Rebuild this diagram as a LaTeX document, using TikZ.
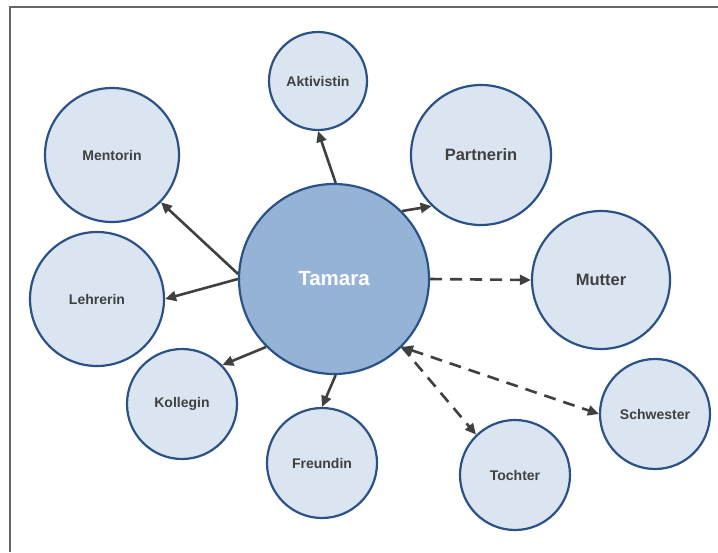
\documentclass[tikz,border=0pt]{standalone}
\usepackage{fontspec}
\setmainfont{Liberation Sans}
\usetikzlibrary{arrows.meta}
\definecolor{ring}{HTML}{2B5287}
\definecolor{pale}{HTML}{DBE5F1}
\definecolor{core}{HTML}{95B3D7}
\definecolor{ink}{HTML}{404040}

\begin{document}
\begin{tikzpicture}[x=1pt,y=-1pt,
    person/.style={circle,draw=ring,line width=2.2pt,fill=pale,inner sep=0pt,
      text=ink,font=\bfseries\fontsize{14}{16}\selectfont},
    big/.style={font=\bfseries\fontsize{16.5}{18}\selectfont},
    tie/.style={draw=ink,line width=2.6pt,-{Triangle[length=11pt,width=10pt]}},
    loose/.style={tie,dash pattern=on 12pt off 8pt}]
    \useasboundingbox (0,0) rectangle (718,552);
    \draw[line width=1.5pt,gray!80!black] (10,552) |- (718,7);
    \node[person,minimum size=190pt,fill=core,text=white,
      font=\bfseries\fontsize{20.5}{22}\selectfont] (tamara) at (334,279) {Tamara};
    \node[person,minimum size=98pt] (aktivistin) at (318,81) {Aktivistin};
    \node[person,minimum size=134pt] (mentorin) at (112,155) {Mentorin};
    \node[person,big,minimum size=140pt] (partnerin) at (481,155) {Partnerin};
    \node[person,minimum size=134pt] (lehrerin) at (97,299) {Lehrerin};
    \node[person,big,minimum size=138pt] (mutter) at (601,280) {Mutter};
    \node[person,minimum size=110pt] (kollegin) at (182,404) {Kollegin};
    \node[person,minimum size=110pt] (freundin) at (322,463) {Freundin};
    \node[person,minimum size=110pt] (tochter) at (515,475) {Tochter};
    \node[person,minimum size=110pt] (schwester) at (655,414) {Schwester};
    % feste Beziehungen
    \draw[tie] (tamara.89) -- (aktivistin.south);
    \draw[tie] (tamara.177) -- (mentorin.-44);
    \draw[tie] (tamara.180) -- (lehrerin.east);
    \draw[tie] (tamara.-135) -- (kollegin.44);
    \draw[tie] (tamara.-89) -- (freundin.north);
    \draw[tie] (tamara.45) -- (partnerin.-134);
    % Familie
    \draw[loose] (tamara.east) -- (mutter.west);
    \draw[loose,{Triangle[length=11pt,width=10pt]}-{Triangle[length=11pt,width=10pt]}]
      (tamara.-45) -- (schwester.west);
    \draw[loose] (tamara.-45) -- (tochter.134);
  \end{tikzpicture}
\end{document}
